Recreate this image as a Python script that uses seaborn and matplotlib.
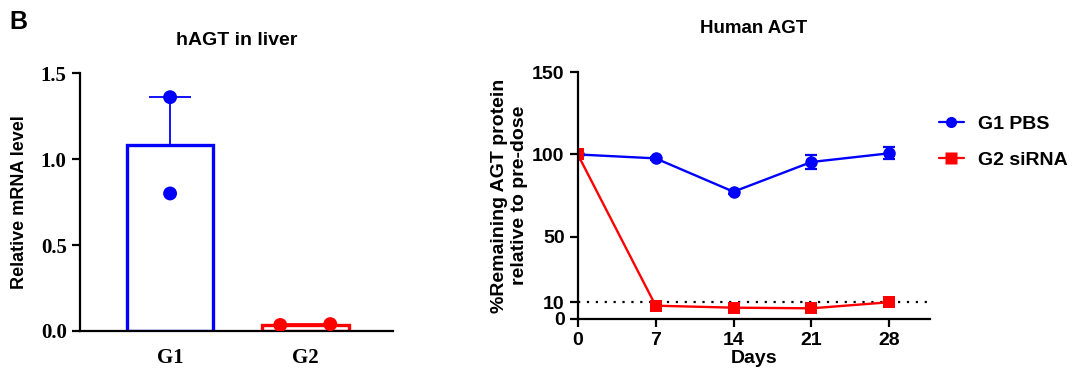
import numpy as np
import pandas as pd
import matplotlib
matplotlib.use("Agg")
import matplotlib.pyplot as plt
import seaborn as sns

# left panel: hAGT mRNA in liver
groups = ["G1", "G2"]
g1_points = [1.36, 0.80]
g2_points = [0.035, 0.04]
bar_colors = ["#0000ff", "#ff0000"]

# right panel: human AGT protein over time
days = [0, 7, 14, 21, 28]
pbs_mean = [100, 97.6, 77.3, 95.4, 100.7]
pbs_err = [0.8, 1.0, 1.2, 4.0, 3.7]
sirna_mean = [100, 7.9, 6.7, 6.3, 10.0]
sirna_err = [0.8, 1.0, 0.8, 0.8, 1.0]
series_names = ["G1 PBS", "G2 siRNA"]

sns.set_style("ticks")
plt.rcParams["font.family"] = ["Liberation Sans", "DejaVu Sans"]
for k in ["text.color", "axes.labelcolor", "xtick.color", "ytick.color", "axes.edgecolor"]:
    plt.rcParams[k] = "black"

pts = pd.DataFrame({
    "group": ["G1"] * len(g1_points) + ["G2"] * len(g2_points),
    "value": g1_points + g2_points,
})
pts["x"] = pts["group"].map({"G1": 0, "G2": 1})
# Prism-style horizontal spread for overlapping points
pts["xoff"] = [0, 0, -0.185, 0.185]

fig = plt.figure(figsize=(10.8, 3.91), dpi=100)

# ---- left: bar chart
ax1 = fig.add_axes([0.074, 0.1535, 0.29, 0.6595])
sns.barplot(data=pts, x="group", y="value", order=groups, errorbar=None,
            fill=False, width=0.64, linewidth=2.4, ax=ax1)
for patch, c in zip(ax1.patches, bar_colors):
    patch.set_edgecolor(c)
    patch.set_facecolor("white")
    patch.set_zorder(2)

# SEM upward only
for i, g in enumerate(groups):
    v = pts.loc[pts.group == g, "value"]
    ax1.errorbar(i, v.mean(), yerr=[[0], [v.std() / np.sqrt(len(v))]],
                 color=bar_colors[i], lw=1.3, capsize=15, capthick=1.3, zorder=3)

sns.scatterplot(x=pts["x"] + pts["xoff"], y=pts["value"], hue=pts["group"],
                palette=bar_colors, s=100, edgecolor="none", legend=False,
                zorder=4, ax=ax1)

ax1.set_xlim(-0.667, 1.65)
ax1.set_ylim(0, 1.5)
ax1.set_yticks([0, 0.5, 1.0, 1.5])
ax1.set_yticklabels(["0.0", "0.5", "1.0", "1.5"])
ax1.set_xticks([0, 1])
ax1.set_xticklabels(groups)
for lab in ax1.get_xticklabels() + ax1.get_yticklabels():
    lab.set_family("Liberation Serif")
    lab.set_fontweight("bold")
    lab.set_fontsize(15)
ax1.tick_params(axis="y", length=6, width=1.6)
ax1.tick_params(axis="x", length=0, pad=12)
ax1.set_xlabel("")
ax1.set_ylabel("Relative mRNA level", fontsize=13, fontweight="bold", labelpad=9)
ax1.set_title("hAGT in liver", fontsize=14, fontweight="bold", pad=20)
for s in ["left", "bottom"]:
    ax1.spines[s].set_linewidth(1.6)
sns.despine(ax=ax1)

# ---- right: time course
ax2 = fig.add_axes([0.535, 0.185, 0.326, 0.63])
ts = pd.DataFrame({
    "day": days * 2,
    "pct": pbs_mean + sirna_mean,
    "err": pbs_err + sirna_err,
    "grp": [series_names[0]] * len(days) + [series_names[1]] * len(days),
})
sns.lineplot(data=ts, x="day", y="pct", hue="grp", style="grp",
             palette=bar_colors, markers=["o", "s"], dashes=False,
             markersize=9, markeredgewidth=0, linewidth=1.7, ax=ax2, legend=False)
for (name, sub), c in zip(ts.groupby("grp", sort=False), bar_colors):
    ax2.errorbar(sub["day"], sub["pct"], yerr=sub["err"], fmt="none",
                 ecolor=c, elinewidth=1.6, capsize=4, capthick=1.6)

ax2.axhline(10, color="black", ls=(0, (1, 3)), lw=1.6, zorder=0)
ax2.set_xlim(0, 31.65)
ax2.set_ylim(0, 150)
ax2.set_xticks(days)
ax2.set_yticks([0, 10, 50, 100, 150])
ax2.tick_params(axis="both", length=6, width=1.6, labelsize=14)
for lab in ax2.get_xticklabels() + ax2.get_yticklabels():
    lab.set_fontweight("bold")
ax2.set_xlabel("Days", fontsize=14, fontweight="bold", labelpad=1)
ax2.set_ylabel("%Remaining AGT protein\nrelative to pre-dose", fontsize=14,
               fontweight="bold", labelpad=3)
ax2.set_title("Human AGT", fontsize=13.5, fontweight="bold", pad=28)
for s in ["left", "bottom"]:
    ax2.spines[s].set_linewidth(1.6)
sns.despine(ax=ax2)

handles = [
    plt.Line2D([], [], color=bar_colors[0], marker="o", ms=8, lw=1.6, mec="none"),
    plt.Line2D([], [], color=bar_colors[1], marker="s", ms=8, lw=1.6, mec="none"),
]
fig.legend(handles, series_names, loc="upper left", bbox_to_anchor=(0.853, 0.75),
           frameon=False, prop={"weight": "bold", "size": 14},
           handlelength=1.3, labelspacing=0.95, handletextpad=0.7)

fig.text(0.009, 0.975, "B", fontsize=18, fontweight="bold", va="top")

fig.savefig("out.png", dpi=100)
